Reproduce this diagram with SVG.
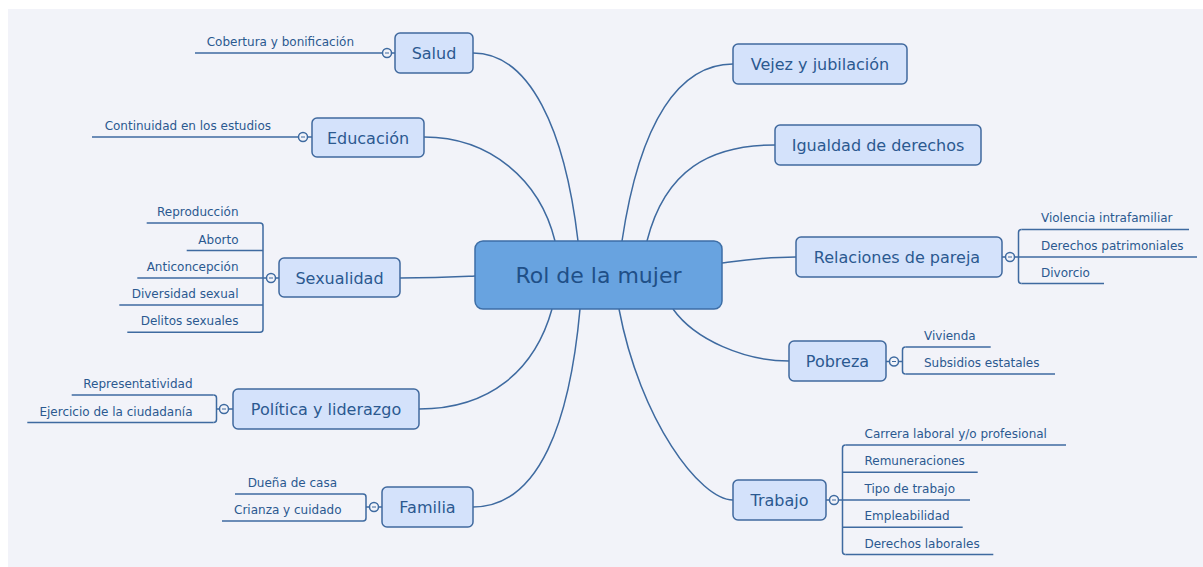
<svg xmlns="http://www.w3.org/2000/svg" width="1203" height="567" viewBox="0 0 1203 567">
<style>
.bg{fill:#f2f3f9}
.topic rect{fill:#d4e2fb;stroke:#40699e;stroke-width:1.5}
.topic text{font-family:"DejaVu Sans",Verdana,sans-serif;font-size:16px;fill:#2b5990;text-anchor:middle}
.central rect{fill:#68a3e0;stroke:#3d6ea6;stroke-width:1.5}
.central text{font-family:"DejaVu Sans",Verdana,sans-serif;font-size:22px;fill:#1f4f87;text-anchor:middle}
.sub line{stroke:#3e6aa0;stroke-width:1.5}
.sub text{font-family:"DejaVu Sans",Verdana,sans-serif;font-size:12px;fill:#2b5990}
.sub.l text{text-anchor:end}
.conn{fill:none;stroke:#3e6aa0;stroke-width:1.5}
.knob{fill:#f2f3f9;stroke:#3e6aa0;stroke-width:1.5}
.dash{stroke:#3e6aa0;stroke-width:1}
</style>
<rect width="1203" height="567" fill="#ffffff"/>
<rect class="bg" x="8" y="9" width="1195" height="558"/>

<g id="connectors">
  <path class="conn" d="M473,53 C530,53 565,130 578,241"/>
  <path class="conn" d="M424,137 C490,137 540,180 555,241"/>
  <path class="conn" d="M400,278 C440,278 455,277 475,276"/>
  <path class="conn" d="M419,409 C490,409 535,370 552,309"/>
  <path class="conn" d="M473,507 C540,507 570,420 580,309"/>
  <path class="conn" d="M733,64 C680,64 640,120 622,241"/>
  <path class="conn" d="M775,145 C710,145 665,170 647,241"/>
  <path class="conn" d="M796,257 C765,257 745,260 722,263"/>
  <path class="conn" d="M789,361 C745,361 695,340 673,309"/>
  <path class="conn" d="M733,500 C700,500 640,420 619,309"/>
  <!-- branch connectors -->
  <path class="conn" d="M391.5,53 H395"/>
  <path class="conn" d="M307.5,137 H312"/>
  <path class="conn" d="M275.5,278 H279 M266.5,278 H263 M260,223 Q263,223 263,226 V329.3 Q263,332.3 260,332.3"/>
  <path class="conn" d="M228.5,409 H233 M219.5,409 H216.5 M213.5,395 Q216.5,395 216.5,398 V419.5 Q216.5,422.5 213.5,422.5"/>
  <path class="conn" d="M378.5,507 H382 M369.5,507 H366 M363,494 Q366,494 366,497 V518 Q366,521 363,521"/>
  <path class="conn" d="M1002,257 H1005.5 M1014.5,257 H1018.5 M1021.5,229.5 Q1018.5,229.5 1018.5,232.5 V280.5 Q1018.5,283.5 1021.5,283.5"/>
  <path class="conn" d="M886,361.5 H889.5 M898.5,361.5 H902.5 M905.5,347 Q902.5,347 902.5,350 V371 Q902.5,374 905.5,374"/>
  <path class="conn" d="M826,500 H829.5 M838.5,500 H842.5 M845.5,445 Q842.5,445 842.5,448 V551.5 Q842.5,554.5 845.5,554.5"/>
  <!-- collapse knobs -->
  <circle class="knob" cx="387" cy="53" r="4.5"/><line class="dash" x1="385" y1="53" x2="389" y2="53"/>
  <circle class="knob" cx="303" cy="137" r="4.5"/><line class="dash" x1="301" y1="137" x2="305" y2="137"/>
  <circle class="knob" cx="271" cy="278" r="4.5"/><line class="dash" x1="269" y1="278" x2="273" y2="278"/>
  <circle class="knob" cx="224" cy="409" r="4.5"/><line class="dash" x1="222" y1="409" x2="226" y2="409"/>
  <circle class="knob" cx="374" cy="507" r="4.5"/><line class="dash" x1="372" y1="507" x2="376" y2="507"/>
  <circle class="knob" cx="1010" cy="257" r="4.5"/><line class="dash" x1="1008" y1="257" x2="1012" y2="257"/>
  <circle class="knob" cx="894" cy="361.5" r="4.5"/><line class="dash" x1="892" y1="361.5" x2="896" y2="361.5"/>
  <circle class="knob" cx="834" cy="500" r="4.5"/><line class="dash" x1="832" y1="500" x2="836" y2="500"/>
</g>

<g id="central" class="central">
  <rect x="475" y="241" width="247" height="68" rx="8"/>
  <text x="598.5" y="283">Rol de la mujer</text>
</g>

<g id="salud" class="topic"><rect x="395" y="33" width="78" height="40" rx="5"/><text x="434" y="59">Salud</text></g>
<g id="educacion" class="topic"><rect x="312" y="118" width="112" height="39" rx="5"/><text x="368" y="143.5">Educación</text></g>
<g id="sexualidad" class="topic"><rect x="279" y="258" width="121" height="39" rx="5"/><text x="339.5" y="283.5">Sexualidad</text></g>
<g id="politica" class="topic"><rect x="233" y="389" width="186" height="40" rx="5"/><text x="326" y="415">Política y liderazgo</text></g>
<g id="familia" class="topic"><rect x="382" y="487" width="91" height="40" rx="5"/><text x="427.5" y="513">Familia</text></g>
<g id="vejez" class="topic"><rect x="733" y="44" width="174" height="40" rx="5"/><text x="820" y="70">Vejez y jubilación</text></g>
<g id="igualdad" class="topic"><rect x="775" y="125" width="206" height="40" rx="5"/><text x="878" y="151">Igualdad de derechos</text></g>
<g id="relaciones" class="topic"><rect x="796" y="237" width="206" height="40" rx="5"/><text x="897" y="263">Relaciones de pareja</text></g>
<g id="pobreza" class="topic"><rect x="789" y="341" width="97" height="40" rx="5"/><text x="837.5" y="367">Pobreza</text></g>
<g id="trabajo" class="topic"><rect x="733" y="480" width="93" height="40" rx="5"/><text x="779.5" y="506">Trabajo</text></g>

<!-- left subtopics -->
<g id="s-cobertura" class="sub l"><line x1="195" y1="53" x2="382.5" y2="53"/><text x="354" y="46">Cobertura y bonificación</text></g>
<g id="s-continuidad" class="sub l"><line x1="92" y1="137" x2="298.5" y2="137"/><text x="271" y="130">Continuidad en los estudios</text></g>
<g id="s-reproduccion" class="sub l"><line x1="146.7" y1="223" x2="260" y2="223"/><text x="238.5" y="216">Reproducción</text></g>
<g id="s-aborto" class="sub l"><line x1="186.7" y1="250.5" x2="263" y2="250.5"/><text x="238.5" y="243.5">Aborto</text></g>
<g id="s-anticoncepcion" class="sub l"><line x1="137.3" y1="278" x2="263" y2="278"/><text x="238.5" y="271">Anticoncepción</text></g>
<g id="s-diversidad" class="sub l"><line x1="119.3" y1="305" x2="263" y2="305"/><text x="238.5" y="298">Diversidad sexual</text></g>
<g id="s-delitos" class="sub l"><line x1="127.3" y1="332.3" x2="260" y2="332.3"/><text x="238.5" y="325.3">Delitos sexuales</text></g>
<g id="s-representatividad" class="sub l"><line x1="71.7" y1="395" x2="213.5" y2="395"/><text x="192.5" y="388">Representatividad</text></g>
<g id="s-ejercicio" class="sub l"><line x1="27.3" y1="422.5" x2="213.5" y2="422.5"/><text x="192.5" y="415.5">Ejercicio de la ciudadanía</text></g>
<g id="s-duena" class="sub l"><line x1="235" y1="494" x2="363" y2="494"/><text x="337" y="487">Dueña de casa</text></g>
<g id="s-crianza" class="sub l"><line x1="222" y1="521" x2="363" y2="521"/><text x="341.5" y="514">Crianza y cuidado</text></g>

<!-- right subtopics -->
<g id="s-violencia" class="sub"><line x1="1021.5" y1="229.5" x2="1189" y2="229.5"/><text x="1041" y="222">Violencia intrafamiliar</text></g>
<g id="s-patrimoniales" class="sub"><line x1="1018.5" y1="257" x2="1197" y2="257"/><text x="1041" y="249.5">Derechos patrimoniales</text></g>
<g id="s-divorcio" class="sub"><line x1="1021.5" y1="283.5" x2="1104" y2="283.5"/><text x="1041" y="276.5">Divorcio</text></g>
<g id="s-vivienda" class="sub"><line x1="905.5" y1="347" x2="990.7" y2="347"/><text x="924" y="340">Vivienda</text></g>
<g id="s-subsidios" class="sub"><line x1="905.5" y1="374" x2="1055" y2="374"/><text x="924" y="367">Subsidios estatales</text></g>
<g id="s-carrera" class="sub"><line x1="845.5" y1="445" x2="1066" y2="445"/><text x="864.5" y="438">Carrera laboral y/o profesional</text></g>
<g id="s-remuneraciones" class="sub"><line x1="842.5" y1="472.3" x2="977.7" y2="472.3"/><text x="864.5" y="465.3">Remuneraciones</text></g>
<g id="s-tipo" class="sub"><line x1="842.5" y1="500" x2="970" y2="500"/><text x="864.5" y="493">Tipo de trabajo</text></g>
<g id="s-empleabilidad" class="sub"><line x1="842.5" y1="527.3" x2="962.7" y2="527.3"/><text x="864.5" y="520.3">Empleabilidad</text></g>
<g id="s-laborales" class="sub"><line x1="845.5" y1="554.5" x2="993.3" y2="554.5"/><text x="864.5" y="547.5">Derechos laborales</text></g>
</svg>
